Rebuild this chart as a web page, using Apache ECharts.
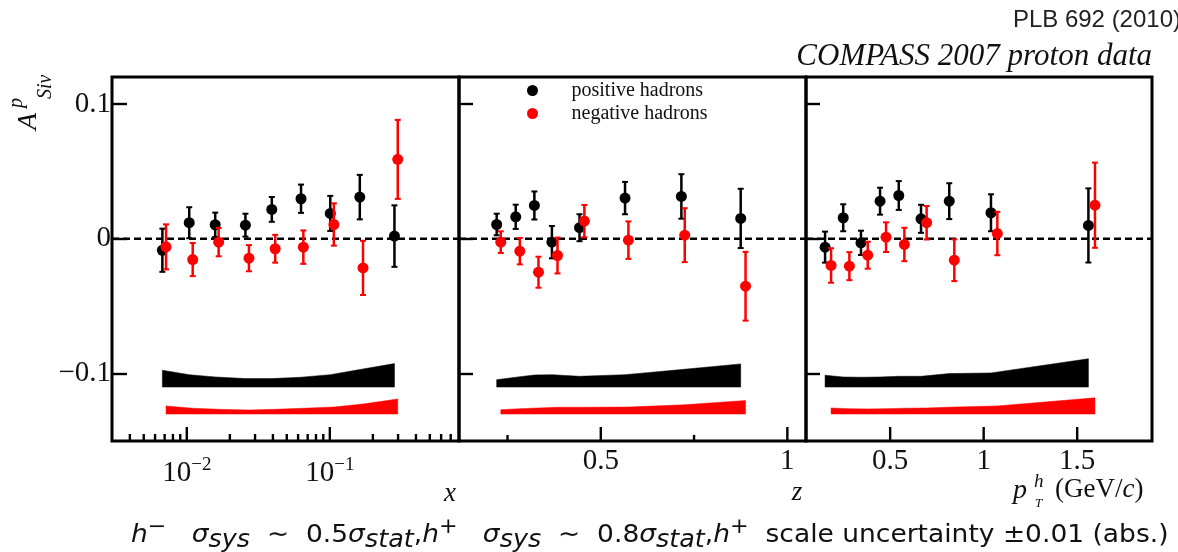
<!DOCTYPE html>
<html>
<head>
<meta charset="utf-8">
<script src="https://cdn.jsdelivr.net/npm/echarts@6/dist/echarts.min.js"></script>
<style>html,body{margin:0;padding:0;background:#fff;}#c{width:1178px;height:552px;}</style>
</head>
<body>
<div id="c"></div>
<script>
// ---------------- data: panel 1 (x, log axis) ----------------
const xPos = [0.00675, 0.0104, 0.0158, 0.0257, 0.0393, 0.0629, 0.1007, 0.162, 0.283];
const yPosX = [-0.0085, 0.0119, 0.0104, 0.0101, 0.0218, 0.0297, 0.0188, 0.0309, 0.002];
const ePosX = [0.016, 0.0115, 0.009, 0.0085, 0.0092, 0.0105, 0.013, 0.0165, 0.0228];
const xNeg = [0.00716, 0.011, 0.0167, 0.0272, 0.0415, 0.0653, 0.1067, 0.1706, 0.2985];
const yNegX = [-0.006, -0.0154, -0.0025, -0.0144, -0.0074, -0.0062, 0.0106, -0.0216, 0.0589];
const eNegX = [0.0167, 0.0123, 0.0105, 0.0097, 0.0103, 0.0124, 0.0157, 0.0201, 0.0293];
const bandPosHiX = [-0.0975, -0.1008, -0.1025, -0.1037, -0.1037, -0.1027, -0.1008, -0.097, -0.0926];
const bandPosLoX = [-0.110, -0.110, -0.110, -0.110, -0.110, -0.110, -0.110, -0.110, -0.110];
const bandNegHiX = [-0.124, -0.1257, -0.1265, -0.127, -0.1265, -0.1257, -0.1248, -0.1226, -0.1188];
const bandNegLoX = [-0.130, -0.130, -0.130, -0.130, -0.130, -0.130, -0.130, -0.130, -0.130];

// ---------------- data: panel 2 (z) ----------------
const zPos = [0.221, 0.272, 0.322, 0.369, 0.443, 0.565, 0.716, 0.875];
const yPosZ = [0.0106, 0.0163, 0.0247, -0.0025, 0.0082, 0.0302, 0.0314, 0.0151];
const ePosZ = [0.008, 0.009, 0.0104, 0.012, 0.010, 0.012, 0.0165, 0.022];
const zNeg = [0.232, 0.283, 0.333, 0.384, 0.456, 0.574, 0.725, 0.888];
const yNegZ = [-0.0025, -0.0092, -0.0248, -0.0124, 0.0131, -0.001, 0.0027, -0.0352];
const eNegZ = [0.008, 0.0098, 0.0115, 0.0133, 0.012, 0.0139, 0.020, 0.0255];
const bandPosHiZ = [-0.1045, -0.1027, -0.101, -0.1008, -0.102, -0.1008, -0.097, -0.0928];
const bandPosLoZ = [-0.110, -0.110, -0.110, -0.110, -0.110, -0.110, -0.110, -0.110];
const bandNegHiZ = [-0.1268, -0.126, -0.1255, -0.125, -0.125, -0.1248, -0.1231, -0.120];
const bandNegLoZ = [-0.130, -0.130, -0.130, -0.130, -0.130, -0.130, -0.130, -0.130];

// ---------------- data: panel 3 (pT) ----------------
const pPos = [0.152, 0.249, 0.344, 0.446, 0.546, 0.665, 0.816, 1.039, 1.56];
const yPosP = [-0.0062, 0.0156, -0.003, 0.0279, 0.0321, 0.0148, 0.0279, 0.0193, 0.0099];
const ePosP = [0.0115, 0.010, 0.009, 0.010, 0.0107, 0.0104, 0.0133, 0.0137, 0.0275];
const pNeg = [0.184, 0.282, 0.380, 0.478, 0.576, 0.695, 0.843, 1.073, 1.595];
const yNegP = [-0.0198, -0.0203, -0.0122, 0.0012, -0.0042, 0.0119, -0.0159, 0.0039, 0.0249];
const eNegP = [0.0128, 0.0104, 0.010, 0.011, 0.0124, 0.0124, 0.0155, 0.0161, 0.0316];
const bandPosHiP = [-0.1012, -0.1025, -0.1027, -0.1025, -0.102, -0.102, -0.1, -0.0995, -0.089];
const bandPosLoP = [-0.110, -0.110, -0.110, -0.110, -0.110, -0.110, -0.110, -0.110, -0.110];
const bandNegHiP = [-0.1255, -0.126, -0.1262, -0.126, -0.1257, -0.1255, -0.1248, -0.124, -0.118];
const bandNegLoP = [-0.130, -0.130, -0.130, -0.130, -0.130, -0.130, -0.130, -0.130, -0.130];

// ---------------- axes / ticks ----------------
const yTicks = [-0.1, 0, 0.1];
const xMajorTicks = [0.01, 0.1];
const xMinorTicks = [0.004, 0.005, 0.006, 0.007, 0.008, 0.009, 0.02, 0.03, 0.04, 0.05, 0.06, 0.07, 0.08, 0.09, 0.2, 0.3, 0.4, 0.5, 0.6, 0.7];
const zMajorTicks = [0.5, 1];
const zMinorTicks = [0.25, 0.75];
const pMajorTicks = [0.5, 1, 1.5];
const xRange = [0.003, 0.8];
const zRange = [0.12, 1.05];
const pRange = [0.05, 1.9];
const yRange = [-0.15, 0.12];

const SERIF = '"Liberation Serif", "DejaVu Serif", serif';
const SANS = '"DejaVu Sans", sans-serif';
const BLACK = '#000000';
const RED = '#ff0000';
const TXT = '#111111';

const chart = echarts.init(document.getElementById('c'), null, {renderer: 'canvas'});

function errSeries(idx, xs, ys, es, color, z) {
  return {
    type: 'custom', xAxisIndex: idx, yAxisIndex: idx, z: z, silent: true,
    data: xs.map((x, i) => [x, ys[i], es[i]]),
    encode: {x: 0, y: 1},
    renderItem: (params, api) => {
      const x = api.value(0), y = api.value(1), e = api.value(2);
      const t = api.coord([x, y + e]);
      const b = api.coord([x, y - e]);
      const hw = 3;
      return {type: 'group', children: [
        {type: 'line', shape: {x1: t[0], y1: t[1], x2: b[0], y2: b[1]}, style: {stroke: color, lineWidth: 2.5}},
        {type: 'line', shape: {x1: t[0] - hw, y1: t[1], x2: t[0] + hw, y2: t[1]}, style: {stroke: color, lineWidth: 2}},
        {type: 'line', shape: {x1: b[0] - hw, y1: b[1], x2: b[0] + hw, y2: b[1]}, style: {stroke: color, lineWidth: 2}}
      ]};
    }
  };
}
function pointSeries(idx, name, xs, ys, color, z) {
  return {
    type: 'scatter', name: name, xAxisIndex: idx, yAxisIndex: idx, z: z, silent: true,
    symbol: 'circle', symbolSize: 11, itemStyle: {color: color, opacity: 1},
    data: xs.map((x, i) => [x, ys[i]])
  };
}
function bandSeries(idx, xs, lo, hi, color) {
  return {
    type: 'custom', xAxisIndex: idx, yAxisIndex: idx, z: 1, silent: true,
    data: xs.map((x, i) => [x, lo[i], hi[i]]),
    encode: {x: 0, y: [1, 2]},
    renderItem: (params, api) => {
      if (params.dataIndex !== 0) return null;
      const pts = [];
      for (let i = 0; i < xs.length; i++) pts.push(api.coord([xs[i], hi[i]]));
      for (let i = xs.length - 1; i >= 0; i--) pts.push(api.coord([xs[i], lo[i]]));
      return {type: 'polygon', shape: {points: pts}, style: {fill: color, stroke: color, lineWidth: 0.5}};
    }
  };
}
function zeroLine(idx, range) {
  return {
    type: 'line', xAxisIndex: idx, yAxisIndex: idx, z: 1, silent: true,
    symbol: 'none', data: [[range[0], 0], [range[1], 0]],
    lineStyle: {color: BLACK, width: 2.5, type: [7, 4]}
  };
}
// ticks along the bottom edge of a panel, placed through the panel's own x scale
function bottomTickSeries(idx, ticks, len) {
  return {
    type: 'custom', xAxisIndex: idx, yAxisIndex: idx, z: 5, silent: true, clip: false,
    data: ticks.map(v => [v, yRange[0]]),
    encode: {x: 0, y: 1},
    renderItem: (params, api) => {
      const p = api.coord([api.value(0), api.value(1)]);
      return {type: 'line', shape: {x1: p[0], y1: p[1], x2: p[0], y2: p[1] - len}, style: {stroke: BLACK, lineWidth: 2.4}};
    }
  };
}

const gridBase = {top: 77, height: 364, show: true, borderColor: BLACK, borderWidth: 3, backgroundColor: 'transparent'};
const tickLabelStyle = {color: TXT, fontFamily: SERIF, fontSize: 29};
const noLine = {show: false, onZero: false};

function yAxisDef(gi, withLabels, tickLen) {
  return {
    type: 'value', gridIndex: gi, min: yRange[0], max: yRange[1],
    axisLine: noLine, splitLine: {show: false},
    axisTick: {show: true, inside: true, length: tickLen, lineStyle: {color: BLACK, width: 2.4}, customValues: yTicks},
    axisLabel: {show: withLabels, customValues: yTicks, margin: 1, ...tickLabelStyle,
      formatter: v => (Math.abs(v) < 1e-9 ? '0' : (v < 0 ? '\u2212' : '') + Math.abs(v).toFixed(1))}
  };
}

const option = {
  animation: false,
  backgroundColor: '#ffffff',
  grid: [
    {...gridBase, left: 112, width: 347},
    {...gridBase, left: 459, width: 347},
    {...gridBase, left: 806, width: 346}
  ],
  xAxis: [
    {type: 'log', logBase: 10, gridIndex: 0, min: xRange[0], max: xRange[1], position: 'bottom',
      axisLine: noLine, splitLine: {show: false}, minorTick: {show: false}, axisTick: {show: false},
      axisLabel: {customValues: xMajorTicks, margin: 15,
        formatter: v => '{b|10}{s|\u2212' + Math.round(-Math.log10(v)) + '}',
        rich: {
          b: {fontFamily: SERIF, fontSize: 29, color: TXT, lineHeight: 32, verticalAlign: 'bottom'},
          s: {fontFamily: SERIF, fontSize: 19, color: TXT, lineHeight: 17, verticalAlign: 'top'}
        }}},
    {type: 'value', gridIndex: 1, min: zRange[0], max: zRange[1], position: 'bottom',
      axisLine: noLine, splitLine: {show: false}, axisTick: {show: false},
      axisLabel: {customValues: zMajorTicks, margin: 6, ...tickLabelStyle, formatter: v => String(v)}},
    {type: 'value', gridIndex: 2, min: pRange[0], max: pRange[1], position: 'bottom',
      axisLine: noLine, splitLine: {show: false}, axisTick: {show: false},
      axisLabel: {customValues: pMajorTicks, margin: 6, ...tickLabelStyle, formatter: v => String(v)}}
  ],
  yAxis: [yAxisDef(0, true, 15), yAxisDef(1, false, 14), yAxisDef(2, false, 14)],
  legend: {
    show: true, orient: 'vertical', left: 522, top: 75, selectedMode: false,
    itemWidth: 68, itemHeight: 11, itemGap: 2, symbolKeepAspect: true,
    textStyle: {fontFamily: SERIF, fontSize: 20, color: TXT, lineHeight: 21},
    data: [
      {name: 'positive hadrons', icon: 'circle', itemStyle: {color: BLACK}},
      {name: 'negative hadrons', icon: 'circle', itemStyle: {color: RED}}
    ]
  },
  series: [
    bandSeries(0, xPos, bandPosLoX, bandPosHiX, BLACK),
    bandSeries(0, xNeg, bandNegLoX, bandNegHiX, RED),
    bandSeries(1, zPos, bandPosLoZ, bandPosHiZ, BLACK),
    bandSeries(1, zNeg, bandNegLoZ, bandNegHiZ, RED),
    bandSeries(2, pPos, bandPosLoP, bandPosHiP, BLACK),
    bandSeries(2, pNeg, bandNegLoP, bandNegHiP, RED),
    zeroLine(0, xRange), zeroLine(1, zRange), zeroLine(2, pRange),
    bottomTickSeries(0, xMajorTicks, 14),
    bottomTickSeries(0, xMinorTicks, 7),
    bottomTickSeries(1, zMajorTicks, 14),
    bottomTickSeries(1, zMinorTicks, 6),
    bottomTickSeries(2, pMajorTicks, 14),
    errSeries(0, xPos, yPosX, ePosX, BLACK, 3),
    errSeries(1, zPos, yPosZ, ePosZ, BLACK, 3),
    errSeries(2, pPos, yPosP, ePosP, BLACK, 3),
    pointSeries(0, 'positive hadrons', xPos, yPosX, BLACK, 4),
    pointSeries(1, 'positive hadrons', zPos, yPosZ, BLACK, 4),
    pointSeries(2, 'positive hadrons', pPos, yPosP, BLACK, 4),
    errSeries(0, xNeg, yNegX, eNegX, RED, 5),
    errSeries(1, zNeg, yNegZ, eNegZ, RED, 5),
    errSeries(2, pNeg, yNegP, eNegP, RED, 5),
    pointSeries(0, 'negative hadrons', xNeg, yNegX, RED, 6),
    pointSeries(1, 'negative hadrons', zNeg, yNegZ, RED, 6),
    pointSeries(2, 'negative hadrons', pNeg, yNegP, RED, 6)
  ],
  graphic: [
    {type: 'text', x: 1181, y: 20, style: {text: 'PLB 692 (2010)', fontFamily: '"Liberation Sans", Arial, sans-serif', fontSize: 24, fill: '#222', align: 'right', verticalAlign: 'middle'}},
    {type: 'text', x: 1152, y: 57, style: {text: 'COMPASS 2007 proton data', fontFamily: SERIF, fontStyle: 'italic', fontSize: 31, fill: TXT, align: 'right', verticalAlign: 'middle'}},
    // y-axis title A^p_Siv (rotated)
    {type: 'text', x: 29, y: 130, rotation: Math.PI / 2, style: {text: 'A', fontFamily: SERIF, fontStyle: 'italic', fontSize: 28, fill: TXT, align: 'left', verticalAlign: 'middle'}},
    {type: 'text', x: 17, y: 108, rotation: Math.PI / 2, style: {text: 'p', fontFamily: SERIF, fontStyle: 'italic', fontSize: 20, fill: TXT, align: 'left', verticalAlign: 'middle'}},
    {type: 'text', x: 46, y: 99, rotation: Math.PI / 2, style: {text: 'Siv', fontFamily: SERIF, fontStyle: 'italic', fontSize: 20, fill: TXT, align: 'left', verticalAlign: 'middle'}},
    // axis titles
    {type: 'text', x: 450, y: 494, style: {text: 'x', fontFamily: SERIF, fontStyle: 'italic', fontSize: 27, fill: TXT, align: 'center', verticalAlign: 'middle'}},
    {type: 'text', x: 797, y: 493, style: {text: 'z', fontFamily: SERIF, fontStyle: 'italic', fontSize: 27, fill: TXT, align: 'center', verticalAlign: 'middle'}},
    {type: 'text', x: 1013, y: 491, style: {text: 'p', fontFamily: SERIF, fontStyle: 'italic', fontSize: 28, fill: TXT, align: 'left', verticalAlign: 'middle'}},
    {type: 'text', x: 1034, y: 482, style: {text: 'h', fontFamily: SERIF, fontStyle: 'italic', fontSize: 19, fill: TXT, align: 'left', verticalAlign: 'middle'}},
    {type: 'text', x: 1035, y: 504, style: {text: 'T', fontFamily: SERIF, fontStyle: 'italic', fontSize: 13, fill: TXT, align: 'left', verticalAlign: 'middle'}},
    {type: 'text', x: 1055, y: 490, style: {text: '(GeV/{i|c})', fontFamily: SERIF, fontSize: 27, fill: TXT, align: 'left', verticalAlign: 'middle',
      rich: {i: {fontFamily: SERIF, fontStyle: 'italic', fontSize: 27, fill: TXT}}}},
    // bottom note
    {type: 'text', x: 131, y: 535, scaleX: 1.06, style: {
      text: '{i|h}{sp|\u2212}   {i|\u03c3}{sb|sys}  \u223c  0.5{i|\u03c3}{sb|stat},{i|h}{sp|+}   {i|\u03c3}{sb|sys}  \u223c  0.8{i|\u03c3}{sb|stat},{i|h}{sp|+}  scale uncertainty \u00b10.01 (abs.)',
      fontFamily: SANS, fontSize: 25, lineHeight: 36, fill: TXT, align: 'left', verticalAlign: 'middle',
      rich: {
        i: {fontFamily: SANS, fontStyle: 'italic', fontSize: 25, lineHeight: 36, fill: TXT},
        sb: {fontFamily: SANS, fontStyle: 'italic', fontSize: 24, lineHeight: 22, verticalAlign: 'bottom', fill: TXT},
        sp: {fontFamily: SANS, fontSize: 21, lineHeight: 19, verticalAlign: 'top', fill: TXT}
      }}}
  ]
};
chart.setOption(option);
</script>
</body>
</html>
